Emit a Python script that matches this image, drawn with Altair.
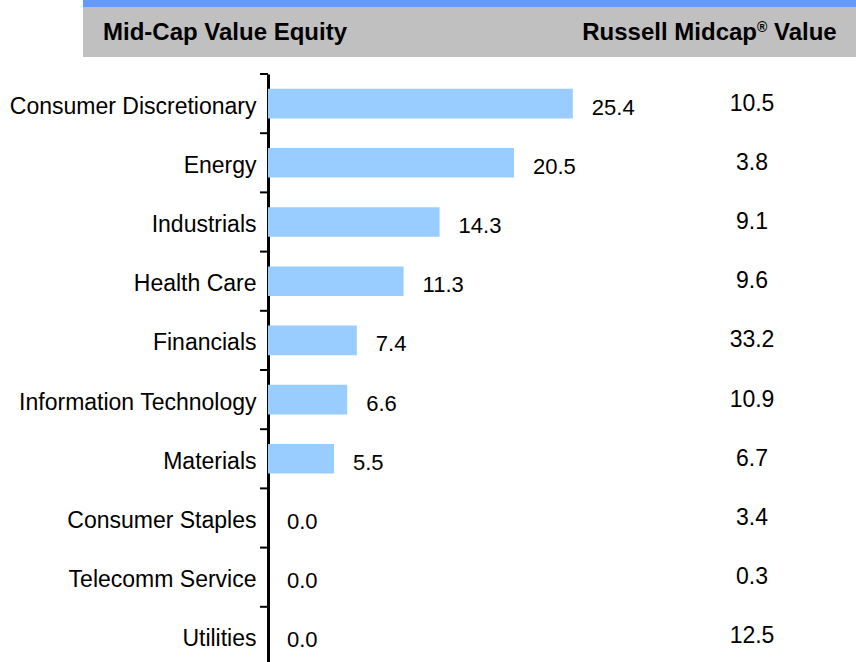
import altair as alt
import pandas as pd

categories = ["Consumer Discretionary", "Energy", "Industrials", "Health Care",
              "Financials", "Information Technology", "Materials",
              "Consumer Staples", "Telecomm Service", "Utilities"]
fund_weights = [25.4, 20.5, 14.3, 11.3, 7.4, 6.6, 5.5, 0.0, 0.0, 0.0]
bench_weights = [10.5, 3.8, 9.1, 9.6, 33.2, 10.9, 6.7, 3.4, 0.3, 12.5]
header_left = "Mid-Cap Value Equity"
header_right_main = "Russell Midcap"
header_right_mark = "®"
header_right_tail = "Value"

FONT = "Liberation Sans"

df = pd.DataFrame({
    "sector": categories,
    "fund": fund_weights,
    "bench": bench_weights,
})
df["fund_label"] = [f"{v:.1f}" for v in fund_weights]
df["bench_label"] = [f"{v:.1f}" for v in bench_weights]

one = pd.DataFrame({"k": [0]})

PX_W = 588
PX_H = 592
STEP = PX_H / 10.0

y_scale = alt.Scale(paddingInner=0.5, paddingOuter=0.25)
y_enc = alt.Y("sector:N", sort=categories, scale=y_scale,
              axis=alt.Axis(title=None, domainColor="black", domainWidth=3,
                            ticks=False, labelFont=FONT, labelFontSize=23,
                            labelColor="black", labelPadding=12, labelLimit=0,
                            labelOffset=3, grid=False))
x_scale = alt.Scale(domain=[0, PX_W / 12.0], nice=False, zero=True)

base = alt.Chart(df)

bars = base.mark_bar(color="#99CCFF").encode(
    x=alt.X("fund:Q", scale=x_scale, axis=None),
    y=y_enc,
)

ticks = base.mark_rule(color="black", strokeWidth=2, yOffset=-STEP / 2).encode(
    x=alt.value(-8), x2=alt.value(0),
    y=alt.Y("sector:N", sort=categories),
)

fund_text = base.mark_text(align="left", baseline="middle", dx=19, dy=4,
                           font=FONT, fontSize=22, color="black").encode(
    x=alt.X("fund:Q", scale=x_scale, axis=None),
    y=alt.Y("sector:N", sort=categories),
    text="fund_label:N",
)

bench_text = base.mark_text(align="center", baseline="middle", dy=0,
                            font=FONT, fontSize=23, color="black").encode(
    x=alt.value(484),
    y=alt.Y("sector:N", sort=categories),
    text="bench_label:N",
)

hdr = alt.Chart(one)
gray_box = hdr.mark_rect(color="#C0C0C0").encode(
    x=alt.value(-185), x2=alt.value(PX_W), y=alt.value(-74), y2=alt.value(-17))
blue_strip = hdr.mark_rect(color="#6699FF").encode(
    x=alt.value(-185), x2=alt.value(PX_W), y=alt.value(-74), y2=alt.value(-67))

t_left = hdr.mark_text(align="left", baseline="alphabetic", font=FONT,
                       fontSize=24, fontWeight="bold", color="black").encode(
    x=alt.value(-165), y=alt.value(-34), text=alt.value(header_left))
t_r1 = hdr.mark_text(align="right", baseline="alphabetic", font=FONT,
                     fontSize=24, fontWeight="bold", color="black").encode(
    x=alt.value(489), y=alt.value(-34), text=alt.value(header_right_main))
t_r2 = hdr.mark_text(align="left", baseline="alphabetic", font=FONT,
                     fontSize=14, fontWeight="bold", color="black").encode(
    x=alt.value(489), y=alt.value(-42), text=alt.value(header_right_mark))
t_r3 = hdr.mark_text(align="left", baseline="alphabetic", font=FONT,
                     fontSize=24, fontWeight="bold", color="black").encode(
    x=alt.value(506), y=alt.value(-34), text=alt.value(header_right_tail))

chart = alt.layer(
    gray_box, blue_strip, t_left, t_r1, t_r2, t_r3,
    bars, ticks, fund_text, bench_text,
).properties(
    width=PX_W, height=PX_H,
    padding={"left": 268, "top": 74, "right": 0, "bottom": 0},
    autosize=alt.AutoSizeParams(type="none"),
    background="white",
).configure_view(stroke=None)

chart.save("out.html", embed_options={"renderer": "svg", "actions": False})
